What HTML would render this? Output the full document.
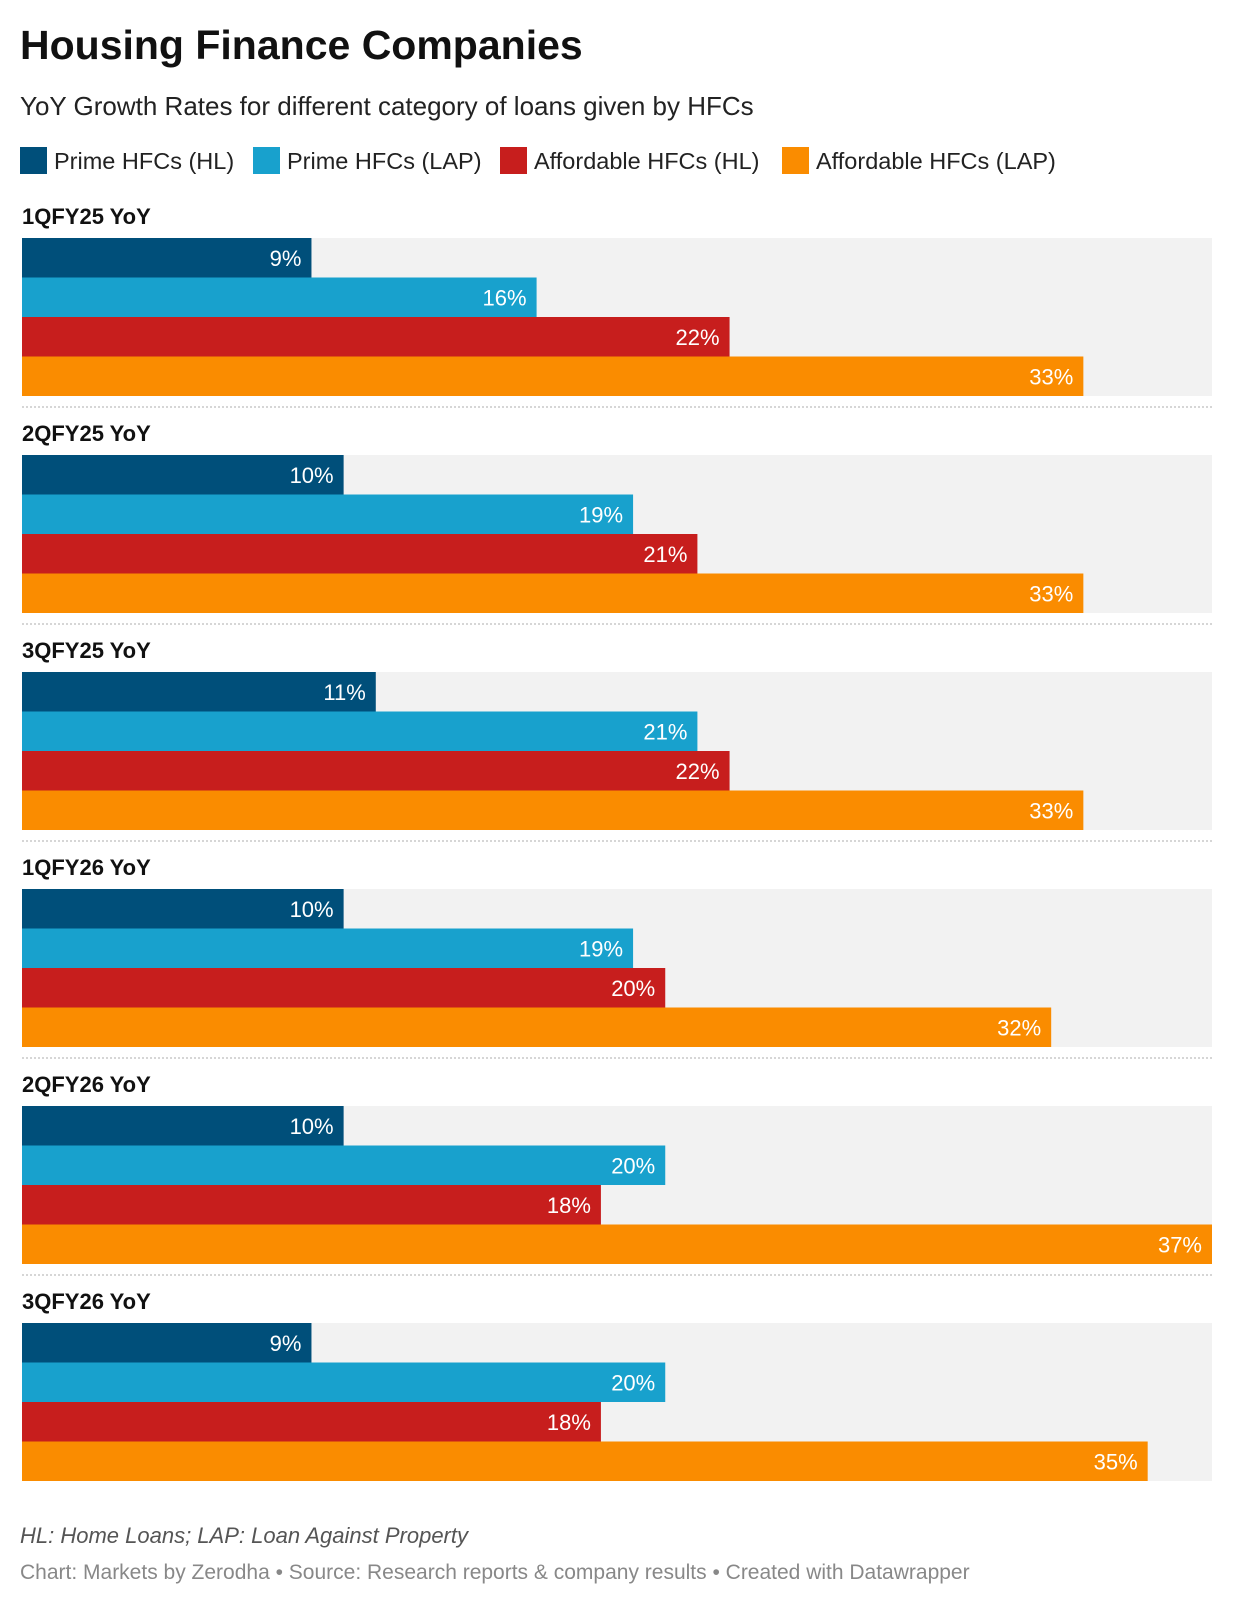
<!DOCTYPE html>
<html><head><meta charset="utf-8">
<style>
html,body{margin:0;padding:0;background:#fff;}
body{width:1234px;height:1600px;overflow:hidden;font-family:"Liberation Sans",sans-serif;}
</style></head>
<body>
<svg id="chart" width="1234" height="1600" xmlns="http://www.w3.org/2000/svg" font-family="Liberation Sans, sans-serif">
<text x="20" y="59" font-size="41" font-weight="bold" fill="#111">Housing Finance Companies</text>
<text x="20" y="115" font-size="26" fill="#222">YoY Growth Rates for different category of loans given by HFCs</text>
<g id="legend"></g>
<g id="groups"></g>
<text x="20" y="1543" font-size="22" font-style="italic" fill="#555">HL: Home Loans; LAP: Loan Against Property</text>
<text x="20" y="1579" font-size="21" fill="#888">Chart: Markets by Zerodha • Source: Research reports &amp; company results • Created with Datawrapper</text>
</svg>
<script>
const categories = ["1QFY25 YoY","2QFY25 YoY","3QFY25 YoY","1QFY26 YoY","2QFY26 YoY","3QFY26 YoY"];
const seriesNames = ["Prime HFCs (HL)","Prime HFCs (LAP)","Affordable HFCs (HL)","Affordable HFCs (LAP)"];
const primeHL = [9,10,11,10,10,9];
const primeLAP = [16,19,21,19,20,20];
const affordableHL = [22,21,22,20,18,18];
const affordableLAP = [33,33,33,32,37,35];
const colors = ["#004f7a","#18a1cd","#c71e1d","#fa8c00"];

const NS = "http://www.w3.org/2000/svg";
const series = [primeHL, primeLAP, affordableHL, affordableLAP];
const x0 = 22, x1 = 1212, maxV = 37;
const xScale = v => x0 + (v / maxV) * (x1 - x0);
const groupTop = i => 238 + i * 217;
const barH = 39.5;
function mk(tag, attrs, parent){ const e=document.createElementNS(NS,tag); for(const k in attrs) e.setAttribute(k,attrs[k]); parent.appendChild(e); return e; }

const legend = document.getElementById('legend');
const legX = [20, 253, 500, 782];
seriesNames.forEach((n,i)=>{
  const sw = mk('rect',{x:legX[i],y:147,width:27,height:27,fill:colors[i]},legend);
  
  
  const t = mk('text',{x:legX[i]+34,y:169,'font-size':23.5,fill:'#222'},legend);
  
  
  t.textContent = n;
});

const groups = document.getElementById('groups');
categories.forEach((c,gi)=>{
  const top = groupTop(gi);
  const g = mk('g',{},groups);
  
  
  const lab = mk('text',{x:22,y:top-14,'font-size':22,'font-weight':'bold',fill:'#111'},g);
  
  
  lab.textContent = c;
  const bg = mk('rect',{x:x0,y:top,width:x1-x0,height:barH*4,fill:'#f2f2f2'},g);
  
  
  series.forEach((s,si)=>{
    const v = s[gi];
    const y = top + si*barH;
    const r = mk('rect',{x:x0,y:y,width:xScale(v)-x0,height:barH,fill:colors[si]},g);
    
    
    const t = mk('text',{x:xScale(v)-10,y:y+barH/2+8,'font-size':22,fill:'#fff','text-anchor':'end'},g);
    
    
    t.textContent = v + '%';
  });
  if (gi < categories.length-1){
    const l = mk('line',{x1:x0,x2:x1,y1:top+barH*4+11,y2:top+barH*4+11,stroke:'#c8c8c8','stroke-width':1.5,'stroke-dasharray':'2,2'},g);
    
    
  }
});
</script>
</body></html>
